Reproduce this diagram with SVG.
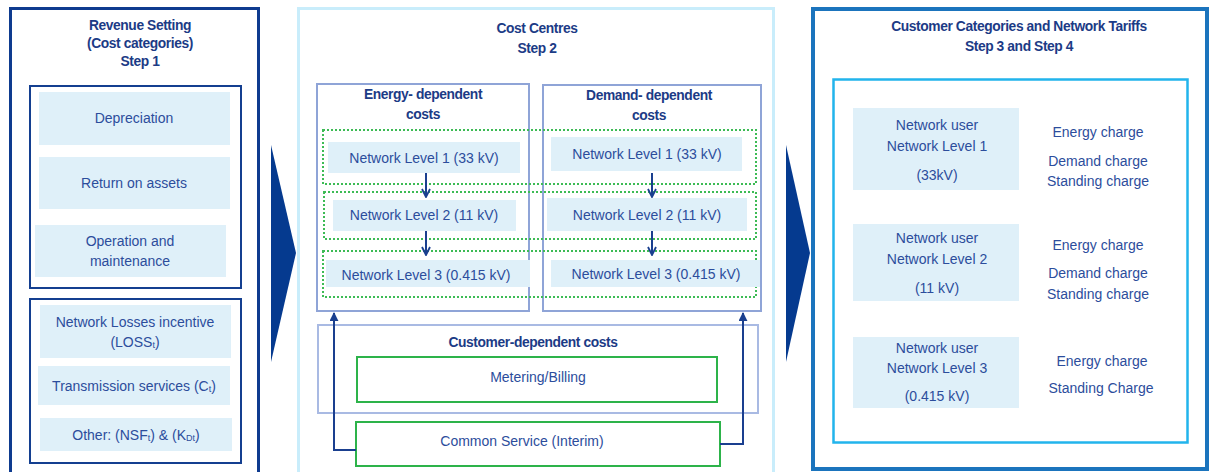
<svg xmlns="http://www.w3.org/2000/svg" width="1214" height="472" viewBox="0 0 1214 472">
<defs>
<style>
text{font-family:"Liberation Sans",Arial,sans-serif;font-size:14px;fill:#2c4d9c;text-anchor:middle;dominant-baseline:central}
.t{font-weight:bold;fill:#1c3b86;letter-spacing:-0.4px;font-size:13.8px}
.lb{fill:#dff0f9}
.dot{fill:none;stroke:#3dbb55;stroke-width:2;stroke-dasharray:2 2}
.grn{fill:#fff;stroke:#2db34a;stroke-width:2}
.con{fill:none;stroke:#1a3f8f;stroke-width:2}
.sub{font-size:9px}
</style>
<marker id="va" viewBox="0 0 10 10" refX="9" refY="5" markerWidth="10" markerHeight="10" markerUnits="userSpaceOnUse" orient="auto">
<path d="M1,1 L9,5 L1,9" fill="none" stroke="#1a3f8f" stroke-width="1.8"/>
</marker>
<marker id="fa" viewBox="0 0 10 10" refX="9" refY="5" markerWidth="9" markerHeight="9" markerUnits="userSpaceOnUse" orient="auto">
<path d="M0,0 L10,5 L0,10 Z" fill="#1a3f8f"/>
</marker>
</defs>
<rect width="1214" height="472" fill="#fff"/>

<g id="step1">
<rect x="10.5" y="8.5" width="248" height="470" fill="none" stroke="#0e3b8f" stroke-width="3"/>
<text class="t" x="140" y="25">Revenue Setting</text>
<text class="t" x="140" y="43">(Cost categories)</text>
<text class="t" x="140" y="61">Step 1</text>
<g id="costs-a">
<rect x="30" y="86" width="211" height="202" fill="none" stroke="#143f90" stroke-width="2"/>
<rect class="lb" x="39" y="92" width="191" height="53"/>
<text x="134" y="118">Depreciation</text>
<rect class="lb" x="39" y="157" width="191" height="52"/>
<text x="134" y="183">Return on assets</text>
<rect class="lb" x="35" y="225" width="191" height="52"/>
<text x="130" y="241">Operation and</text>
<text x="130" y="261">maintenance</text>
</g>
<g id="costs-b">
<rect x="30" y="299" width="211" height="164" fill="none" stroke="#143f90" stroke-width="2"/>
<rect class="lb" x="40" y="305" width="191" height="53"/>
<text x="135" y="322">Network Losses incentive</text>
<text x="135" y="342">(LOSS<tspan class="sub" dy="3">t</tspan><tspan dy="-3">)</tspan></text>
<rect class="lb" x="38" y="366" width="192" height="39"/>
<text x="134" y="386">Transmission services (C<tspan class="sub" dy="3">t</tspan><tspan dy="-3">)</tspan></text>
<rect class="lb" x="40" y="418" width="192" height="33"/>
<text x="136" y="435">Other: (NSF<tspan class="sub" dy="3">t</tspan><tspan dy="-3">) &amp; (K</tspan><tspan class="sub" dy="3">Dt</tspan><tspan dy="-3">)</tspan></text>
</g>
</g>

<g id="chevrons">
<path d="M271,145 L296,253 L271,362 Z" fill="#053a8f"/>
<path d="M786,145 L810,253 L786,362 Z" fill="#053a8f"/>
</g>

<g id="step2">
<rect x="298.5" y="8.5" width="475" height="470" fill="none" stroke="#c9edfb" stroke-width="3"/>
<text class="t" x="537" y="28">Cost Centres</text>
<text class="t" x="537" y="48">Step 2</text>
<g id="energy">
<rect x="317" y="84" width="212" height="227" fill="none" stroke="#8fa4d7" stroke-width="2"/>
<text class="t" x="423" y="94">Energy- dependent</text>
<text class="t" x="423" y="114">costs</text>
</g>
<g id="demand">
<rect x="543" y="85" width="218" height="226" fill="none" stroke="#8fa4d7" stroke-width="2"/>
<text class="t" x="649" y="95">Demand- dependent</text>
<text class="t" x="649" y="115">costs</text>
</g>
<g id="levels">
<rect class="dot" x="323" y="130" width="433" height="54"/>
<rect class="dot" x="324" y="192" width="432" height="47"/>
<rect class="dot" x="323" y="251" width="433" height="46"/>
<rect class="lb" x="328" y="142" width="192" height="31"/>
<text x="424" y="158">Network Level 1 (33 kV)</text>
<rect class="lb" x="333" y="200" width="183" height="31"/>
<text x="424" y="215">Network Level 2 (11 kV)</text>
<rect class="lb" x="326" y="260" width="204" height="27"/>
<text x="426" y="275">Network Level 3 (0.415 kV)</text>
<rect class="lb" x="551" y="137" width="191" height="34"/>
<text x="647" y="154">Network Level 1 (33 kV)</text>
<rect class="lb" x="547" y="198" width="200" height="33"/>
<text x="647" y="215">Network Level 2 (11 kV)</text>
<rect class="lb" x="551" y="260" width="209" height="27"/>
<text x="656" y="274">Network Level 3 (0.415 kV)</text>
</g>
<g id="customer">
<rect x="318" y="325" width="440" height="88" fill="none" stroke="#a9bae3" stroke-width="2"/>
<text class="t" x="533" y="342">Customer-dependent costs</text>
</g>
<g id="metering">
<rect class="grn" x="357" y="357" width="360" height="45"/>
<text x="538" y="377">Metering/Billing</text>
</g>
<g id="common">
<rect class="grn" x="356" y="422" width="364" height="44"/>
<text x="522" y="441">Common Service (Interim)</text>
</g>
</g>

<g id="connectors">
<line class="con" x1="426" y1="173" x2="426" y2="197" marker-end="url(#va)"/>
<line class="con" x1="426" y1="231" x2="426" y2="255" marker-end="url(#va)"/>
<line class="con" x1="652" y1="173" x2="652" y2="197" marker-end="url(#va)"/>
<line class="con" x1="652" y1="231" x2="652" y2="255" marker-end="url(#va)"/>
<polyline class="con" points="356,450 334,450 334,313" marker-end="url(#fa)"/>
<polyline class="con" points="720,444 743,444 743,313" marker-end="url(#fa)"/>
</g>

<g id="step34">
<rect x="813" y="9" width="394" height="460" fill="none" stroke="#1b74bd" stroke-width="4"/>
<text class="t" x="1019" y="26">Customer Categories and Network Tariffs</text>
<text class="t" x="1019" y="46">Step 3 and Step 4</text>
<rect x="833.5" y="79.5" width="354" height="363" fill="none" stroke="#22b4ec" stroke-width="2.5"/>
<g id="user1">
<rect class="lb" x="853" y="108" width="166" height="82"/>
<text x="937" y="125">Network user</text>
<text x="937" y="146">Network Level 1</text>
<text x="937" y="175">(33kV)</text>
<text x="1098" y="132">Energy charge</text>
<text x="1098" y="161">Demand charge</text>
<text x="1098" y="181">Standing charge</text>
</g>
<g id="user2">
<rect class="lb" x="853" y="224" width="166" height="77"/>
<text x="937" y="238">Network user</text>
<text x="937" y="259">Network Level 2</text>
<text x="937" y="288">(11 kV)</text>
<text x="1098" y="245">Energy charge</text>
<text x="1098" y="273">Demand charge</text>
<text x="1098" y="294">Standing charge</text>
</g>
<g id="user3">
<rect class="lb" x="853" y="337" width="166" height="71"/>
<text x="937" y="348">Network user</text>
<text x="937" y="368">Network Level 3</text>
<text x="937" y="396">(0.415 kV)</text>
<text x="1102" y="361">Energy charge</text>
<text x="1101" y="388">Standing Charge</text>
</g>
</g>
</svg>
